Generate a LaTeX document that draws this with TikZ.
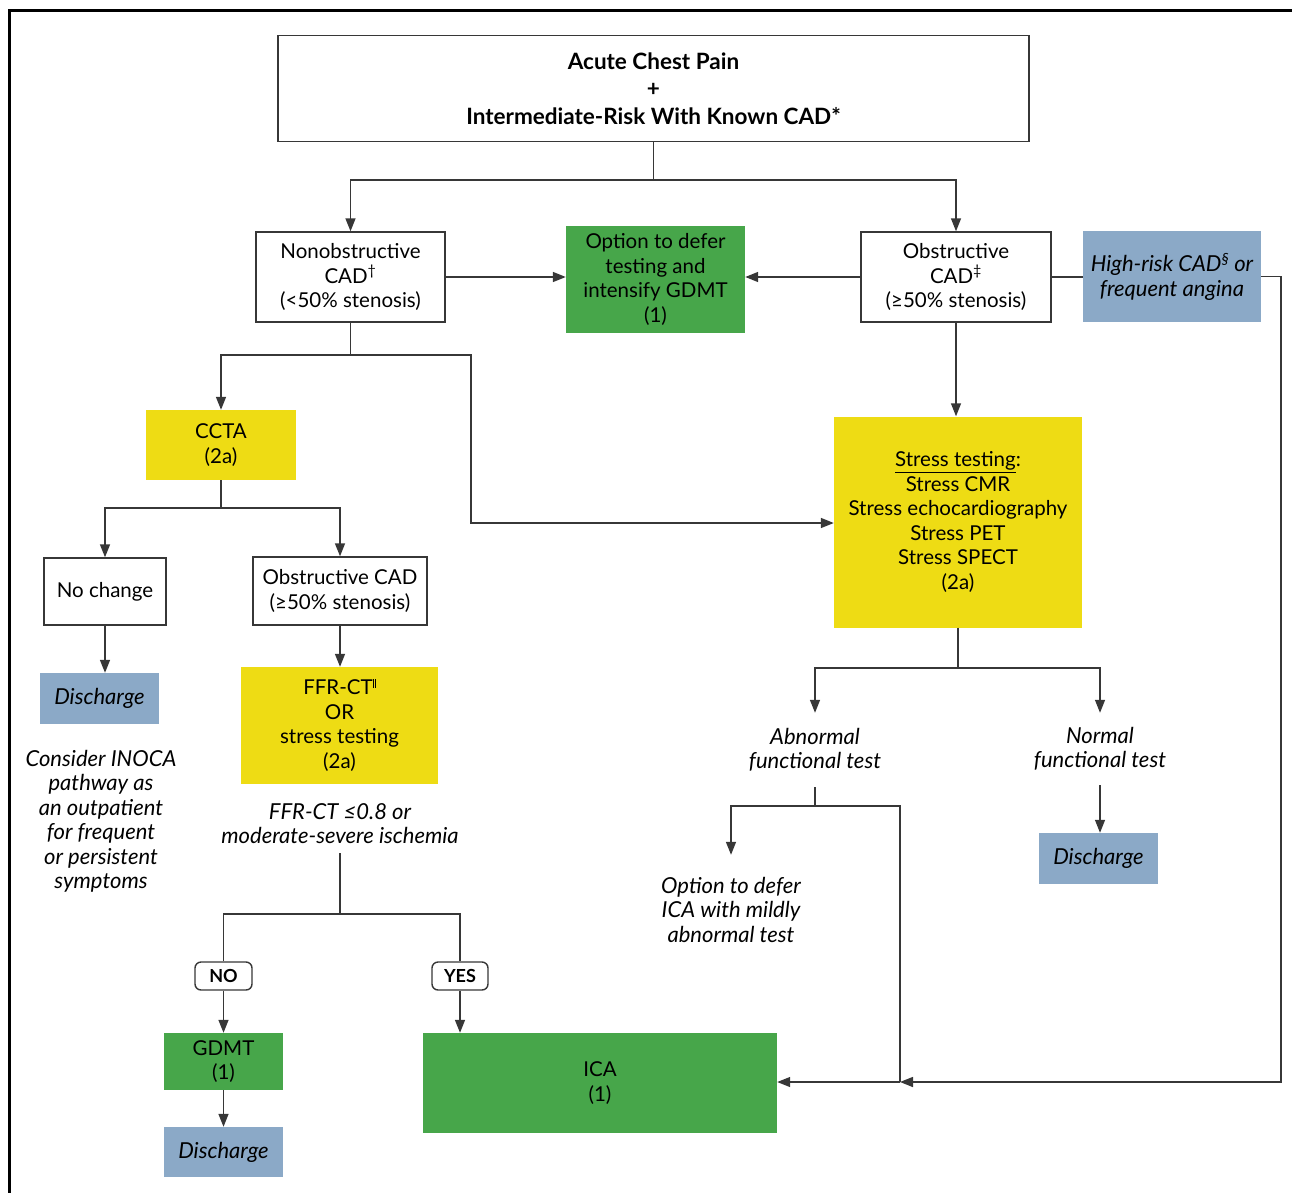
\documentclass[tikz,border=0pt]{standalone}
\usepackage{fontspec}
\setmainfont{Lato}
\usetikzlibrary{arrows.meta,calc}
\definecolor{gr}{RGB}{71,166,74}
\definecolor{ye}{RGB}{238,220,20}
\definecolor{bl}{RGB}{139,169,199}
\definecolor{ln}{RGB}{55,55,55}
\newcommand{\dblbar}{\smash{\raisebox{0.32em}{\rule{0.6pt}{0.45em}\hspace{1.8pt}\rule{0.6pt}{0.45em}}}}
\begin{document}
\begin{tikzpicture}[x=1pt,y=-1pt,
  every node/.style={font=\fontsize{20.5}{24.5}\selectfont, align=center, inner sep=0pt, text=black},
  wbox/.style={draw=ln, line width=1.4pt, fill=white},
  gbox/.style={fill=gr},
  ybox/.style={fill=ye},
  bbox/.style={fill=bl, font=\fontsize{22}{24.5}\selectfont\itshape},
  itxt/.style={font=\fontsize{22}{24.5}\selectfont\itshape},
  lbl/.style={draw=ln, line width=1.4pt, rounded corners=6pt, fill=white, font=\fontsize{18}{20}\selectfont\bfseries},
  conn/.style={draw=ln, line width=1.4pt},
  arr/.style={conn, -{Triangle[length=13pt,width=10pt]}},
  sz/.style 2 args={minimum width=#1, minimum height=#2}
]
\useasboundingbox (0,0) rectangle (1292,1193);
% frame
\draw[line width=3pt] (9,1193) -- (9,11) -- (1292,11);

% nodes
\node[wbox, sz={751pt}{106pt}, font=\fontsize{22.5}{27.5}\selectfont\bfseries] (top) at (653.5,88.5)
  {Acute Chest Pain\\+\\Intermediate-Risk With Known CAD*};
\node[wbox, sz={189pt}{90pt}] (nonob) at (350.5,277) {Nonobstructive\\CAD\textsuperscript{†}\\(<50\% stenosis)};
\node[gbox, sz={179pt}{107pt}] (opt) at (655.5,279.5) {Option to defer\\testing and\\intensify GDMT\\(1)};
\node[wbox, sz={190pt}{90pt}] (obst) at (956,277) {Obstructive\\CAD\textsuperscript{‡}\\(≥50\% stenosis)};
\node[bbox, sz={178pt}{91pt}] (high) at (1172,276.5) {High-risk CAD\textsuperscript{§} or\\frequent angina};
\node[ybox, sz={150pt}{70pt}] (ccta) at (221,445) {CCTA\\(2a)};
\node[ybox, sz={248pt}{211pt}] (stress) at (958,522)
  {\underline{Stress testing}:\\Stress CMR\\Stress echocardiography\\Stress PET\\Stress SPECT\\(2a)};
\node[wbox, sz={122pt}{67pt}] (noch) at (105,591.5) {No change};
\node[wbox, sz={174pt}{68pt}] (obscad) at (340,591) {Obstructive CAD\\(≥50\% stenosis)};
\node[bbox, sz={119pt}{51pt}] (dis1) at (99.5,698.5) {Discharge};
\node[itxt] (inoca) at (101,821.5) {Consider INOCA\\pathway as\\an outpatient\\for frequent\\or persistent\\symptoms};
\node[ybox, sz={197pt}{117pt}] (ffr) at (339.5,725.5)
  {FFR-CT\dblbar\\OR\\stress testing\\(2a)};
\node[itxt, minimum height=59pt] (ffrtxt) at (340,823.5) {FFR-CT ≤0.8 or\\moderate-severe ischemia};
\node[lbl, sz={57pt}{28pt}] (no) at (223.5,976) {NO};
\node[lbl, sz={56pt}{28pt}] (yes) at (460,976) {YES};
\node[gbox, sz={119pt}{57pt}] (gdmt) at (223.5,1061.5) {GDMT\\(1)};
\node[bbox, sz={119pt}{50pt}] (dis2) at (223.5,1152) {Discharge};
\node[gbox, sz={354pt}{100pt}] (ica) at (600,1083) {ICA\\(1)};
\node[itxt, minimum height=74pt] (abn) at (815,750) {Abnormal\\functional test};
\node[itxt, minimum height=72pt] (norm) at (1100,749) {Normal\\functional test};
\node[bbox, sz={119pt}{51pt}] (dis3) at (1098.5,858.5) {Discharge};
\node[itxt, minimum height=109pt] (deftxt) at (731,909.5) {Option to defer\\ICA with mildly\\abnormal test};

% junction coordinates
\coordinate (j1) at (653.5,180);
\coordinate (j2) at (350.5,355);
\coordinate (j3) at (471,523);
\coordinate (j4) at (221,508);
\coordinate (j5) at (340,914);
\coordinate (j6) at (958,668);
\coordinate (j7) at (815,806);
\coordinate (jr) at (900,1082);
\coordinate (rc) at (1281,1082);

% connectors
\draw[conn] (top.south) -- (j1);
\draw[arr] (j1) -| (nonob.north);
\draw[arr] (j1) -| (obst.north);
\draw[arr] (nonob.east) -- (opt.west |- nonob.east);
\draw[arr] (obst.west) -- (opt.east |- obst.west);
\draw[conn] (obst.east) -- (high.west |- obst.east);
\draw[arr] (high.east) -- (high.east -| rc) -- (rc) -- (jr);
\draw[conn] (nonob.south) -- (j2);
\draw[arr] (j2) -| (ccta.north);
\draw[arr] (j2) -| (j3) -- (stress.west |- j3);
\draw[arr] (obst.south) -- (obst.south |- stress.north);
\draw[conn] (ccta.south) -- (j4);
\draw[arr] (j4) -| (noch.north);
\draw[arr] (j4) -| (obscad.north);
\draw[arr] (noch.south) -- (noch.south |- dis1.north);
\draw[arr] (obscad.south) -- (obscad.south |- ffr.north);
\draw[conn] (ffrtxt.south) -- (j5);
\draw[conn] (j5) -| (no.north);
\draw[conn] (j5) -| (yes.north);
\draw[arr] (no.south) -- (no.south |- gdmt.north);
\draw[arr] (gdmt.south) -- (gdmt.south |- dis2.north);
\draw[arr] (yes.south) -- (yes.south |- ica.north);
\draw[conn] (stress.south) -- (j6);
\draw[arr] (j6) -| (abn.north);
\draw[arr] (j6) -| (norm.north);
\draw[arr] (norm.south) -- (norm.south |- dis3.north);
\draw[conn] (abn.south) -- (j7);
\draw[arr] (j7) -| (deftxt.north);
\draw[conn] (j7) -| (jr);
\draw[arr] (jr) -- (ica.east |- jr);
\end{tikzpicture}
\end{document}
